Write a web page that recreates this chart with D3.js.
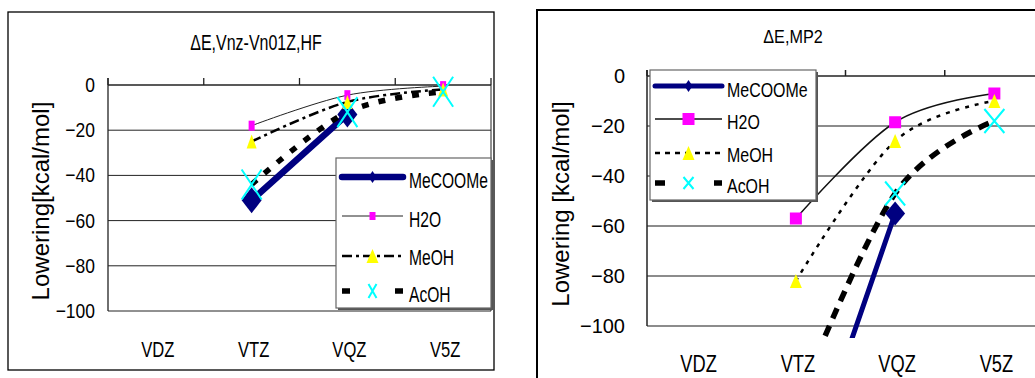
<!DOCTYPE html>
<html>
<head>
<meta charset="utf-8">
<script src="https://cdn.jsdelivr.net/npm/d3@7"></script>
<style>
  body { margin: 0; background: #fff; }
  svg { display: block; }
</style>
</head>
<body>
<script>
// ---- data ----
const categories = ['VDZ', 'VTZ', 'VQZ', 'V5Z'];
const yTicks = [0, -20, -40, -60, -80, -100];
const seriesNames = ['MeCOOMe', 'H2O', 'MeOH', 'AcOH'];

// left chart: ΔE,Vnz-Vn01Z,HF
const hfMeCOOMe = [null, -51, -13, null];
const hfH2O = [null, -18, -4.5, -0.5];
const hfMeOH = [null, -25, -7.5, -2];
const hfAcOH = [null, -44, -12, -3];

// right chart: ΔE,MP2
const mp2MeCOOMe = [null, -170, -55, null];
const mp2H2O = [null, -57, -18.5, -7];
const mp2MeOH = [null, -82, -26, -10];
const mp2AcOH = [null, -132, -47, -18];

const W = 1035, H = 378;
const FONT = 'Liberation Sans, Arial, sans-serif';

const svg = d3.select('body').append('svg')
  .attr('width', W)
  .attr('height', H);

// text with squeeze/stretch (the original font is tall and narrow)
function label(g, x, y, str, o) {
  return g.append('text')
    .attr('transform', `translate(${x},${y}) rotate(${o.rot || 0}) scale(${o.sx || 1},${o.sy || 1})`)
    .attr('text-anchor', o.anchor || 'start')
    .attr('font-family', FONT)
    .attr('font-size', o.size)
    .attr('fill', '#000')
    .text(str);
}

function marker(g, type, cx, cy, s) {
  if (type === 'diamond') {
    g.append('path')
      .attr('d', `M${cx},${cy - s.h}L${cx + s.w},${cy}L${cx},${cy + s.h}L${cx - s.w},${cy}Z`)
      .attr('fill', '#000080');
  } else if (type === 'square') {
    g.append('rect')
      .attr('x', cx - s.w).attr('y', cy - s.h)
      .attr('width', 2 * s.w).attr('height', 2 * s.h)
      .attr('fill', '#ff00ff');
  } else if (type === 'triangle') {
    g.append('path')
      .attr('d', `M${cx},${cy - s.h}L${cx + s.w},${cy + s.h}L${cx - s.w},${cy + s.h}Z`)
      .attr('fill', '#ffff00');
  } else if (type === 'x') {
    g.append('path')
      .attr('d', `M${cx - s.w},${cy - s.h}L${cx + s.w},${cy + s.h}M${cx + s.w},${cy - s.h}L${cx - s.w},${cy + s.h}`)
      .attr('stroke', '#00ffff')
      .attr('stroke-width', 2)
      .attr('fill', 'none');
  }
}

function drawChart(c) {
  const g = svg.append('g');

  // outer frame
  g.append('rect')
    .attr('x', c.frame.x).attr('y', c.frame.y)
    .attr('width', c.frame.w).attr('height', c.frame.h)
    .attr('fill', 'none')
    .attr('stroke', '#000')
    .attr('stroke-width', c.frame.sw);

  const x = d3.scaleBand().domain(categories).range([c.plot.x0, c.plot.x1]);
  const y = d3.scaleLinear().domain([-100, 0]).range([c.plot.y1, c.plot.y0]);
  const cx = d => x(d) + x.bandwidth() / 2;

  // horizontal gridlines
  g.append('g').selectAll('line')
    .data(yTicks.filter(v => v !== 0))
    .enter().append('line')
    .attr('x1', c.plot.x0).attr('x2', c.plot.x1)
    .attr('y1', d => y(d)).attr('y2', d => y(d))
    .attr('stroke', c.gridColor)
    .attr('stroke-width', c.gridWidth);

  // right border of plot area (left chart only)
  if (c.rightBorder) {
    g.append('line')
      .attr('x1', c.plot.x1).attr('x2', c.plot.x1)
      .attr('y1', y(0)).attr('y2', y(-100))
      .attr('stroke', c.gridColor).attr('stroke-width', 1);
  }

  // category axis sits at 0, tick marks point up
  g.append('line')
    .attr('x1', c.plot.x0).attr('x2', c.plot.x1)
    .attr('y1', y(0)).attr('y2', y(0))
    .attr('stroke', '#222').attr('stroke-width', c.axisWidth);
  const bounds = categories.map(d => x(d)).concat([c.plot.x1]);
  g.append('g').selectAll('line')
    .data(bounds)
    .enter().append('line')
    .attr('x1', d => d).attr('x2', d => d)
    .attr('y1', y(0)).attr('y2', y(0) - c.tickLen)
    .attr('stroke', '#222').attr('stroke-width', c.axisWidth);

  // value axis
  g.append('line')
    .attr('x1', c.plot.x0).attr('x2', c.plot.x0)
    .attr('y1', y(0) - c.tickLen).attr('y2', y(-100))
    .attr('stroke', '#222').attr('stroke-width', c.axisWidth);

  yTicks.forEach(v => {
    label(g, c.tick.x, y(v) + c.tick.dy, v < 0 ? '\u2212' + Math.abs(v) : String(v),
      { anchor: 'end', size: c.tick.size, sx: c.tick.sx, sy: c.tick.sy });
  });

  categories.forEach(d => {
    label(g, cx(d) + 2, c.cat.y, d, { anchor: 'middle', size: c.cat.size, sx: c.cat.sx, sy: c.cat.sy });
  });

  label(g, c.title.x, c.title.y, c.title.text,
    { anchor: 'middle', size: c.title.size, sx: c.title.sx, sy: c.title.sy });
  label(g, c.yTitle.x, c.yTitle.y, c.yTitle.text,
    { anchor: 'middle', size: c.yTitle.size, sx: c.yTitle.sx, rot: -90 });

  // series
  const clipId = 'clip_' + c.id;
  svg.append('defs').append('clipPath').attr('id', clipId)
    .append('rect')
    .attr('x', c.plot.x0).attr('y', c.clip.y0)
    .attr('width', c.plot.x1 - c.plot.x0).attr('height', c.clip.y1 - c.clip.y0);

  const line = d3.line()
    .defined(d => d.v !== null)
    .x(d => cx(d.c))
    .y(d => y(d.v))
    .curve(d3.curveCardinal.tension(0));

  const series = c.series.map(s => ({
    ...s,
    pts: categories.map((cat, i) => ({ c: cat, v: s.values[i] }))
  }));

  const lines = g.append('g').attr('clip-path', `url(#${clipId})`);
  series.forEach(s => {
    lines.append('path')
      .attr('d', line(s.pts))
      .attr('fill', 'none')
      .attr('stroke', s.color)
      .attr('stroke-width', s.width)
      .attr('stroke-dasharray', s.dash || null)
      .attr('stroke-linecap', s.cap || 'butt');
  });
  const marks = g.append('g').attr('clip-path', `url(#${clipId})`);
  series.forEach(s => {
    s.pts.filter(p => p.v !== null).forEach(p => marker(marks, s.marker, cx(p.c), y(p.v), s.ms));
  });

  // legend
  const L = c.legend;
  const lg = g.append('g');
  lg.append('rect')
    .attr('x', L.x + 2).attr('y', L.y + 2)
    .attr('width', L.w).attr('height', L.h)
    .attr('fill', '#555');
  lg.append('rect')
    .attr('x', L.x).attr('y', L.y)
    .attr('width', L.w).attr('height', L.h)
    .attr('fill', '#fff')
    .attr('stroke', '#666')
    .attr('stroke-width', 1.2);
  series.forEach((s, i) => {
    const ly = L.rows[i];
    lg.append('line')
      .attr('x1', L.lx0).attr('x2', L.lx1)
      .attr('y1', ly).attr('y2', ly)
      .attr('stroke', s.color)
      .attr('stroke-width', s.width)
      .attr('stroke-dasharray', s.legendDash || s.dash || null)
      .attr('stroke-linecap', s.cap || 'butt');
    marker(lg, s.marker, (L.lx0 + L.lx1) / 2, ly, s.lms);
    label(lg, L.tx, L.base[i], s.name, { size: L.size, sx: L.sx, sy: L.sy });
  });
}

drawChart({
  id: 'hf',
  frame: { x: 8, y: 12, w: 486, h: 358, sw: 1.3 },
  plot: { x0: 108, x1: 491, y0: 85, y1: 311 },
  clip: { y0: 70, y1: 311 },
  rightBorder: true,
  gridColor: '#222', gridWidth: 1, axisWidth: 1.3, tickLen: 7,
  tick: { x: 95, dy: 7, size: 19, sx: 0.92, sy: 1.1 },
  cat: { y: 357, size: 20, sx: 0.83, sy: 1.1 },
  title: { text: '\u0394E,Vnz-Vn01Z,HF', x: 256, y: 50, size: 20, sx: 0.8, sy: 1.1 },
  yTitle: { text: 'Lowering[kcal/mol]', x: 49, y: 201, size: 24, sx: 1 },
  legend: {
    x: 336, y: 158, w: 155, h: 150,
    rows: [177, 216, 256, 291],
    base: [188, 227, 265, 302],
    lx0: 342, lx1: 403, tx: 409, size: 20, sx: 0.78, sy: 1.1
  },
  series: [
    { name: seriesNames[0], values: hfMeCOOMe, color: '#000080', width: 6.5, cap: 'round',
      marker: 'diamond', ms: { w: 10, h: 13 }, lms: { w: 4, h: 6 } },
    { name: seriesNames[1], values: hfH2O, color: '#222', width: 1,
      marker: 'square', ms: { w: 3, h: 5 }, lms: { w: 3, h: 4 } },
    { name: seriesNames[2], values: hfMeOH, color: '#000', width: 2.5, dash: '10,4,3,4',
      marker: 'triangle', ms: { w: 5, h: 7 }, lms: { w: 6, h: 7 } },
    { name: seriesNames[3], values: hfAcOH, color: '#000', width: 5.5, dash: '7,10',
      legendDash: '8,45', marker: 'x', ms: { w: 10, h: 15 }, lms: { w: 4, h: 7 } }
  ]
});

drawChart({
  id: 'mp2',
  frame: { x: 537, y: 10, w: 520, h: 400, sw: 2 },
  plot: { x0: 647, x1: 1044, y0: 76, y1: 326 },
  clip: { y0: 60, y1: 338 },
  rightBorder: false,
  gridColor: '#666', gridWidth: 1.5, axisWidth: 1.5, tickLen: 6,
  tick: { x: 625, dy: 7, size: 20, sx: 1, sy: 1.05 },
  cat: { y: 372, size: 21, sx: 0.87, sy: 1.1 },
  title: { text: '\u0394E,MP2', x: 793, y: 43, size: 18, sx: 0.9, sy: 1.05 },
  yTitle: { text: 'Lowering [kcal/mol]', x: 569, y: 204, size: 24, sx: 1 },
  legend: {
    x: 650, y: 70, w: 166, h: 130,
    rows: [86, 119, 153, 183],
    base: [97, 129, 162, 193],
    lx0: 655, lx1: 722, tx: 727, size: 19, sx: 0.84, sy: 1.05
  },
  series: [
    { name: seriesNames[0], values: mp2MeCOOMe, color: '#000080', width: 5, cap: 'round',
      marker: 'diamond', ms: { w: 10, h: 12 }, lms: { w: 4, h: 6 } },
    { name: seriesNames[1], values: mp2H2O, color: '#111', width: 1.5,
      marker: 'square', ms: { w: 6, h: 6 }, lms: { w: 6, h: 6 } },
    { name: seriesNames[2], values: mp2MeOH, color: '#000', width: 2.5, dash: '4,6',
      legendDash: '5,5', marker: 'triangle', ms: { w: 6, h: 7 }, lms: { w: 6, h: 7 } },
    { name: seriesNames[3], values: mp2AcOH, color: '#000', width: 5.5, dash: '11,8',
      legendDash: '10,49', marker: 'x', ms: { w: 10, h: 12 }, lms: { w: 5, h: 6 } }
  ]
});
</script>
</body>
</html>
